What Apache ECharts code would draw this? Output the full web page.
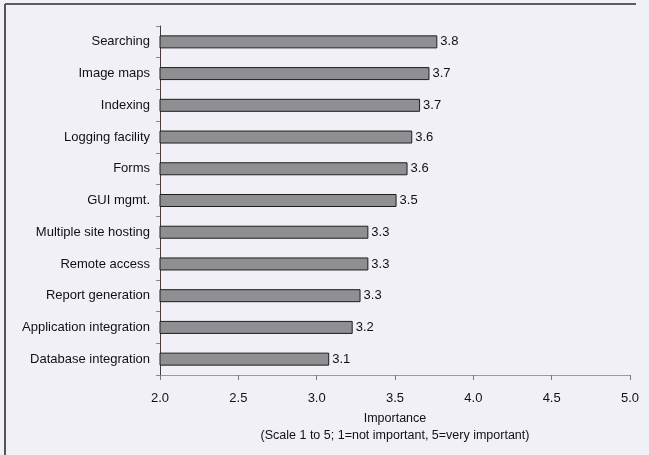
<!DOCTYPE html>
<html>
<head>
<meta charset="utf-8">
<script src="https://cdn.jsdelivr.net/npm/echarts@6/dist/echarts.min.js"></script>
<style>
  html, body { margin: 0; padding: 0; background: #f1f0f7; }
  #chart { width: 649px; height: 455px; }
</style>
</head>
<body>
<div id="chart"></div>
<script>
// Features, listed bottom to top as the category axis draws them
const features = [
  'Database integration', 'Application integration', 'Report generation',
  'Remote access', 'Multiple site hosting', 'GUI mgmt.', 'Forms',
  'Logging facility', 'Indexing', 'Image maps', 'Searching'
];
// Mean importance ratings
const importance = [3.08, 3.23, 3.28, 3.33, 3.33, 3.51, 3.58, 3.61, 3.66, 3.72, 3.77];
// Importance scale ticks
const scaleMin = 2.0;
const scaleMax = 5.0;
const scaleStep = 0.5;
const axisTitle = 'Importance';
const axisNote = '(Scale 1 to 5; 1=not important, 5=very important)';

const chart = echarts.init(document.getElementById('chart'), null, { renderer: 'canvas' });
const font = 'Liberation Sans, Arial, sans-serif';

chart.setOption({
  backgroundColor: '#f1f0f7',
  animation: false,
  textStyle: { fontFamily: font },
  grid: { left: 160, right: 19, top: 26, bottom: 80, containLabel: false },
  xAxis: {
    type: 'value',
    min: scaleMin,
    max: scaleMax,
    interval: scaleStep,
    axisLine: { show: true, lineStyle: { color: '#9a9aa0', width: 1 } },
    axisTick: { show: true, inside: false, length: 5, lineStyle: { color: '#777' } },
    splitLine: { show: false },
    axisLabel: {
      color: '#111', fontSize: 13, fontFamily: font, margin: 17,
      formatter: v => v.toFixed(1)
    },
    name: axisTitle + '\n' + axisNote,
    nameLocation: 'middle',
    nameGap: 35,
    nameTextStyle: {
      color: '#111', fontSize: 12.5, fontFamily: font,
      lineHeight: 17, verticalAlign: 'top', align: 'center'
    }
  },
  yAxis: {
    type: 'category',
    data: features,
    axisLine: { show: true, lineStyle: { color: '#4a3a3a', width: 1 } },
    axisTick: { show: true, length: 4, lineStyle: { color: '#888' } },
    axisLabel: { color: '#111', fontSize: 13, fontFamily: font, margin: 10 }
  },
  series: [{
    type: 'bar',
    data: importance,
    barWidth: 13,
    itemStyle: { color: '#8f8f93', borderColor: '#1e1e1e', borderWidth: 1 },
    label: {
      show: true, position: 'right', distance: 3,
      color: '#111', fontSize: 13, fontFamily: font,
      formatter: p => p.value.toFixed(1)
    }
  }],
  graphic: [
    { type: 'line', shape: { x1: 5, y1: 4, x2: 636, y2: 4 },
      style: { stroke: '#2a2a2a', lineWidth: 1.5 } },
    { type: 'line', shape: { x1: 5, y1: 4, x2: 5, y2: 455 },
      style: { stroke: '#555560', lineWidth: 2 } }
  ]
});
</script>
</body>
</html>
